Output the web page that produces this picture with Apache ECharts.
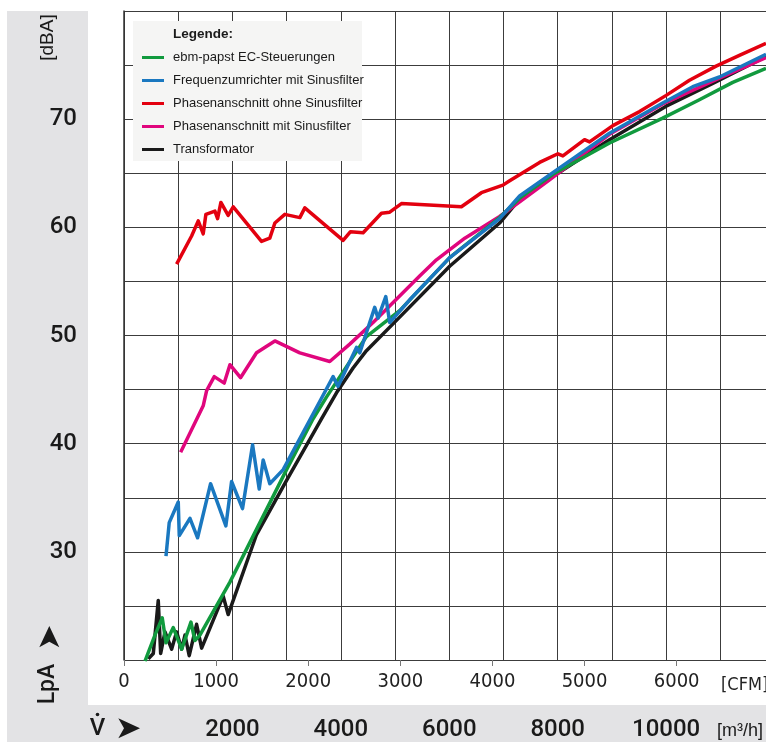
<!DOCTYPE html>
<html>
<head>
<meta charset="utf-8">
<script src="https://cdn.jsdelivr.net/npm/echarts@6/dist/echarts.min.js"></script>
<style>
html,body{margin:0;padding:0;background:#fff;}
#chart{width:766px;height:742px;}
</style>
</head>
<body>
<div id="chart"></div>
<script>
// ---- Data (x in CFM, y in dBA) ----
const seriesNames = [
  'ebm-papst EC-Steuerungen',
  'Frequenzumrichter mit Sinusfilter',
  'Phasenanschnitt ohne Sinusfilter',
  'Phasenanschnitt mit Sinusfilter',
  'Transformator'
];
const greenData = [[228,19.9],[336,22.3],[415,23.9],[456,21.6],[535,23.0],[626,21.0],[727,23.5],[770,21.8],[824,22.3],[1150,27.2],[1765,37.6],[2053,42.3],[2198,44.3],[2632,49.9],[2993,52.3],[3536,57.2],[4078,60.9],[4295,62.7],[4656,64.9],[5271,67.8],[5849,70.1],[6247,71.8],[6609,73.4],[6970,74.7]];
const blueData = [[456,29.6],[491,32.7],[589,34.6],[600,31.5],[716,33.1],[799,31.3],[940,36.3],[1106,32.4],[1168,36.5],[1287,34.0],[1396,39.9],[1468,35.8],[1511,38.5],[1583,36.3],[1728,37.6],[2144,44.2],[2270,46.2],[2324,45.3],[2524,48.9],[2560,48.4],[2722,52.6],[2758,51.6],[2842,53.6],[2885,51.2],[3102,53.3],[3536,57.2],[4078,60.8],[4295,62.9],[4729,65.5],[5271,68.7],[5849,71.5],[6175,73.0],[6464,73.9],[6970,76.0]];
const redData = [[571,56.6],[734,59.2],[806,60.6],[860,59.4],[889,61.2],[987,61.5],[1016,60.8],[1052,62.3],[1131,61.1],[1186,61.9],[1493,58.7],[1583,59.0],[1638,60.4],[1746,61.2],[1909,60.9],[1963,61.8],[2379,58.8],[2459,59.6],[2596,59.5],[2795,61.3],[2885,61.4],[3012,62.2],[3663,61.9],[3880,63.2],[4114,63.9],[4187,64.3],[4512,66.0],[4711,66.8],[4765,66.6],[5000,68.1],[5054,67.9],[5307,69.4],[5597,70.7],[5886,72.2],[6139,73.6],[6428,74.9],[6681,75.9],[6970,77.0]];
const magentaData = [[615,39.2],[860,43.5],[897,44.9],[980,46.2],[1088,45.6],[1150,47.3],[1265,46.1],[1439,48.4],[1638,49.5],[1909,48.4],[2234,47.6],[2451,49.2],[2704,51.2],[3210,55.5],[3392,57.0],[3700,59.0],[4078,61.0],[4620,64.4],[5271,68.6],[5849,71.4],[6464,73.8],[6970,75.7]];
const blackData = [[264,20.1],[318,20.6],[372,25.5],[398,20.6],[445,22.6],[517,21.0],[571,22.6],[626,21.0],[662,22.3],[708,20.4],[788,23.3],[843,21.1],[1077,25.9],[1131,24.2],[1439,31.6],[1765,36.6],[2144,42.3],[2307,44.7],[2487,47.0],[2632,48.6],[2993,51.7],[3536,56.4],[4078,60.4],[4295,62.6],[4656,64.7],[5271,68.1],[5886,71.2],[6392,73.3],[6970,75.8]];

const yTickLabels = [30, 40, 50, 60, 70];
const cfmTickLabels = [0, 1000, 2000, 3000, 4000, 5000, 6000];
const m3hTickLabels = [2000, 4000, 6000, 8000, 10000];
const CFM_MAX = 6970;
const M3H_PER_CFM = 1.699;

// ---- Styles ----
const COND = '"DejaVu Sans Condensed","Liberation Sans",sans-serif';
const SANS = '"Liberation Sans", Arial, sans-serif';
const MED = 'Roboto, "Liberation Sans", sans-serif';
const colors = {
  green: '#119a3e', blue: '#1a78c0', red: '#e3000f', magenta: '#e0067d', black: '#1a1a1a'
};
const PANEL = '#e3e3e5';

const chart = echarts.init(document.getElementById('chart'), null, {renderer: 'canvas'});

function lineSeries(name, data, color) {
  return {
    name: name, type: 'line', data: data, xAxisIndex: 0, yAxisIndex: 0,
    symbol: 'none', smooth: false, color: color, clip: true,
    lineStyle: {color: color, width: 3.5, join: 'round'},
    emphasis: {disabled: true}
  };
}

const option = {
  animation: false,
  backgroundColor: '#ffffff',
  grid: {left: 124, top: 11, right: 0, bottom: 81, containLabel: false},
  legend: {
    orient: 'vertical', left: 142, top: 49, padding: 0,
    icon: 'rect', itemWidth: 22, itemHeight: 3, itemGap: 6,
    data: seriesNames,
    selectedMode: false,
    textStyle: {fontFamily: SANS, fontSize: 13, color: '#1a1a1a', lineHeight: 17, padding: [0, 0, 0, 4]}
  },
  xAxis: [
    {
      type: 'value', min: 0, max: CFM_MAX, interval: 1000, position: 'bottom',
      axisLine: {show: false},
      axisTick: {show: true, length: 6, lineStyle: {color: '#777', width: 1}},
      splitLine: {show: false},
      axisLabel: {
        showMaxLabel: false, margin: 12,
        formatter: v => (cfmTickLabels.indexOf(v) >= 0 ? String(v) : ''),
        fontFamily: COND, fontSize: 20, color: '#222'
      }
    },
    {
      type: 'value', min: 0, max: CFM_MAX * M3H_PER_CFM, interval: 1000, position: 'bottom', offset: 46,
      axisLine: {show: false}, axisTick: {show: false},
      splitLine: {show: true, lineStyle: {color: '#3c3c3c', width: 1}},
      axisLabel: {
        showMaxLabel: false, margin: 12,
        formatter: v => (m3hTickLabels.indexOf(v) >= 0 ? String(v) : ''),
        fontFamily: MED, fontWeight: 500, fontSize: 24, color: '#1a1a1a'
      }
    }
  ],
  yAxis: {
    type: 'value', min: 20, max: 80, interval: 5,
    axisLine: {show: true, lineStyle: {color: '#333', width: 1.5}},
    axisTick: {show: false},
    splitLine: {show: true, lineStyle: {color: '#3c3c3c', width: 1}},
    axisLabel: {
      margin: 47,
      formatter: v => (yTickLabels.indexOf(v) >= 0 ? String(v) : ''),
      fontFamily: MED, fontWeight: 500, fontSize: 24, color: '#1a1a1a'
    }
  },
  graphic: [
    {type: 'rect', z: -10, shape: {x: 7, y: 11, width: 81, height: 731}, style: {fill: PANEL}},
    {type: 'rect', z: -10, shape: {x: 7, y: 705, width: 759, height: 37}, style: {fill: PANEL}},
    {type: 'rect', z: 1, shape: {x: 133, y: 21, width: 229, height: 140}, style: {fill: '#f5f5f4'}},
    {type: 'text', z: 5, x: 173, y: 34, style: {text: 'Legende:', font: 'bold 13.5px ' + SANS, fill: '#1a1a1a', textAlign: 'left', textVerticalAlign: 'middle'}},
    {type: 'text', z: 5, x: 47.5, y: 37.5, rotation: Math.PI / 2, style: {text: '[dBA]', font: '19px ' + SANS, fill: '#1a1a1a', textAlign: 'center', textVerticalAlign: 'middle'}},
    {type: 'text', z: 5, x: 48.5, y: 684, rotation: Math.PI / 2, style: {text: 'LpA', font: '500 23px ' + MED, fill: '#1a1a1a', textAlign: 'center', textVerticalAlign: 'middle'}},
    {type: 'polygon', z: 5, shape: {points: [[49.3, 626], [59.3, 647.3], [49.3, 641.7], [39.3, 647.3]]}, style: {fill: '#1a1a1a'}},
    {type: 'text', z: 5, x: 97.5, y: 729, style: {text: 'V', font: '500 24px ' + MED, fill: '#1a1a1a', textAlign: 'center', textVerticalAlign: 'middle'}},
    {type: 'circle', z: 5, shape: {cx: 97.5, cy: 714.5, r: 1.8}, style: {fill: '#1a1a1a'}},
    {type: 'polygon', z: 5, shape: {points: [[118.3, 718.3], [140, 728.3], [118.3, 738.3], [124, 728.3]]}, style: {fill: '#1a1a1a'}},
    {type: 'text', z: 5, x: 721, y: 685, style: {text: '[CFM]', font: '18px ' + COND, fill: '#222', textAlign: 'left', textVerticalAlign: 'middle'}},
    {type: 'text', z: 5, x: 717, y: 731, style: {text: '[m³/h]', font: '18px ' + SANS, fill: '#1a1a1a', textAlign: 'left', textVerticalAlign: 'middle'}}
  ],
  series: [
    lineSeries(seriesNames[4], blackData, colors.black),
    lineSeries(seriesNames[3], magentaData, colors.magenta),
    lineSeries(seriesNames[0], greenData, colors.green),
    lineSeries(seriesNames[1], blueData, colors.blue),
    lineSeries(seriesNames[2], redData, colors.red)
  ]
};
chart.setOption(option);
</script>
</body>
</html>
